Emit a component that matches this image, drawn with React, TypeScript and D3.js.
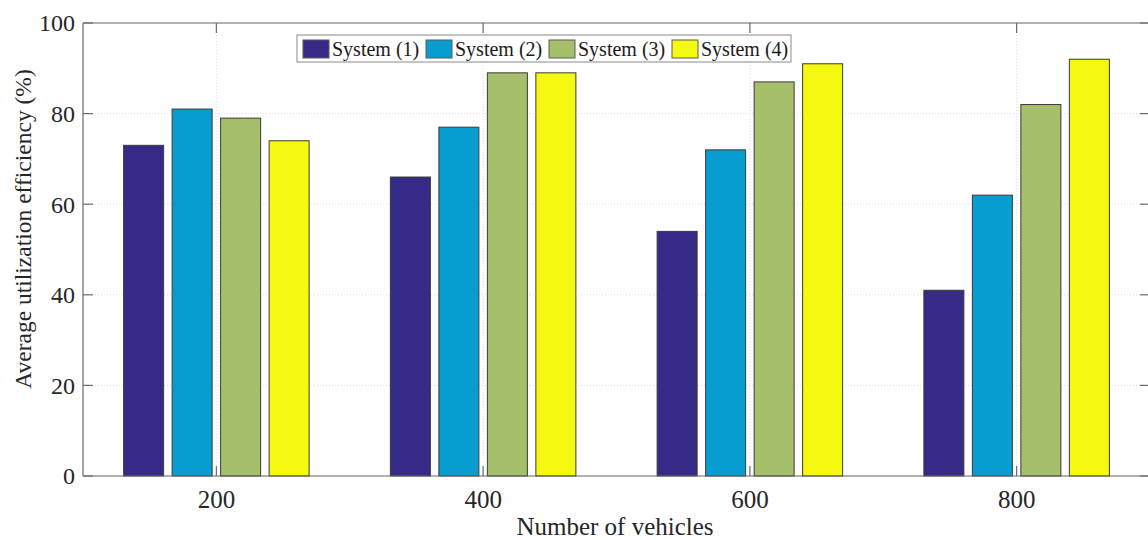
import React from "react";
import * as d3 from "d3";

const categories = [200, 400, 600, 800];
const seriesNames = ["System (1)", "System (2)", "System (3)", "System (4)"];
const system1 = [73, 66, 54, 41];
const system2 = [81, 77, 72, 62];
const system3 = [79, 89, 87, 82];
const system4 = [74, 89, 91, 92];
const seriesValues = [system1, system2, system3, system4];
const colors = ["#352a87", "#079dd1", "#a6bf6b", "#f5f90f"];
const yTicks = [0, 20, 40, 60, 80, 100];

const W = 1148;
const H = 540;
const left = 83;
const right = 1150;
const top = 23;
const bottom = 476;
const FONT = "'Liberation Serif', 'Times New Roman', serif";

export default function App() {
  const x = d3.scaleLinear().domain([100, 900]).range([left, right]);
  const y = d3.scaleLinear().domain([0, 100]).range([bottom, top]);
  const groupHalf = 92.75;
  const band = d3
    .scaleBand<string>()
    .domain(seriesNames)
    .range([-groupHalf, groupHalf])
    .paddingInner(0.175)
    .paddingOuter(0);

  const legendItems: { x: number; name: string; color: string }[] = [];
  let lx = 303;
  const textW = 87.5;
  seriesNames.forEach((n, i) => {
    legendItems.push({ x: lx, name: n, color: colors[i] });
    lx += 26 + 3 + textW + 6.5;
  });

  const tickLen = 10;
  const axisColor = "#6b6b6b";

  return (
    <svg
      width={W}
      height={H}
      style={{ position: "absolute", left: 0, top: 0, background: "#fff" }}
      fontFamily={FONT}
    >
      <rect x={0} y={0} width={W} height={H} fill="#fff" />
      {/* grid */}
      {yTicks.map((t) => (
        <line
          key={"gy" + t}
          x1={left}
          x2={right}
          y1={y(t)}
          y2={y(t)}
          stroke="#dcdcdc"
          strokeWidth={1}
          strokeDasharray="1,2"
        />
      ))}
      {categories.map((c) => (
        <line
          key={"gx" + c}
          x1={x(c)}
          x2={x(c)}
          y1={top}
          y2={bottom}
          stroke="#dcdcdc"
          strokeWidth={1}
          strokeDasharray="1,2"
        />
      ))}
      {/* bars */}
      {categories.map((c, ci) =>
        seriesNames.map((s, si) => {
          const v = seriesValues[si][ci];
          const bx = x(c) + (band(s) as number);
          return (
            <rect
              key={c + s}
              x={bx}
              y={y(v)}
              width={band.bandwidth()}
              height={y(0) - y(v)}
              fill={colors[si]}
              stroke="#3a3a3a"
              strokeWidth={1}
            />
          );
        })
      )}
      {/* axes box */}
      <line x1={left} x2={right} y1={bottom} y2={bottom} stroke={axisColor} strokeWidth={1.2} />
      <line x1={left} x2={right} y1={top} y2={top} stroke={axisColor} strokeWidth={1.2} />
      <line x1={left} x2={left} y1={top} y2={bottom} stroke={axisColor} strokeWidth={1.2} />
      <line x1={right} x2={right} y1={top} y2={bottom} stroke={axisColor} strokeWidth={1.2} />
      {yTicks.map((t) => (
        <g key={"ty" + t}>
          <line x1={left} x2={left + tickLen} y1={y(t)} y2={y(t)} stroke={axisColor} strokeWidth={1.2} />
          <line x1={right} x2={right - tickLen} y1={y(t)} y2={y(t)} stroke={axisColor} strokeWidth={1.2} />
          <text
            x={left - 8}
            y={y(t)}
            dy="0.35em"
            textAnchor="end"
            fontSize={24}
            fontFamily={FONT}
            fill="#262626"
          >
            {t}
          </text>
        </g>
      ))}
      {categories.map((c) => (
        <g key={"tx" + c}>
          <line x1={x(c)} x2={x(c)} y1={bottom} y2={bottom - tickLen} stroke={axisColor} strokeWidth={1.2} />
          <line x1={x(c)} x2={x(c)} y1={top} y2={top + tickLen} stroke={axisColor} strokeWidth={1.2} />
          <text x={x(c)} y={508} textAnchor="middle" fontSize={25} fontFamily={FONT} fill="#262626">
            {c}
          </text>
        </g>
      ))}
      {/* axis labels */}
      <text x={615} y={535} fontSize={25} fontFamily={FONT} fill="#262626" textAnchor="middle">
        Number of vehicles
      </text>
      <text
        transform={`translate(31,229) rotate(-90)`}
        textAnchor="middle"
        fontSize={23.5}
        fontFamily={FONT}
        fill="#262626"
      >
        Average utilization efficiency (%)
      </text>
      {/* legend */}
      <rect x={297} y={35} width={494} height={27} fill="#fff" stroke="#8a8a8a" strokeWidth={1} />
      {legendItems.map((it) => (
        <g key={it.name}>
          <rect x={it.x} y={40} width={26} height={18} fill={it.color} stroke="#5a5a5a" strokeWidth={1} />
          <text x={it.x + 29} y={55.5} fontSize={20} fontFamily={FONT} fill="#1a1a1a">
            {it.name}
          </text>
        </g>
      ))}
    </svg>
  );
}
